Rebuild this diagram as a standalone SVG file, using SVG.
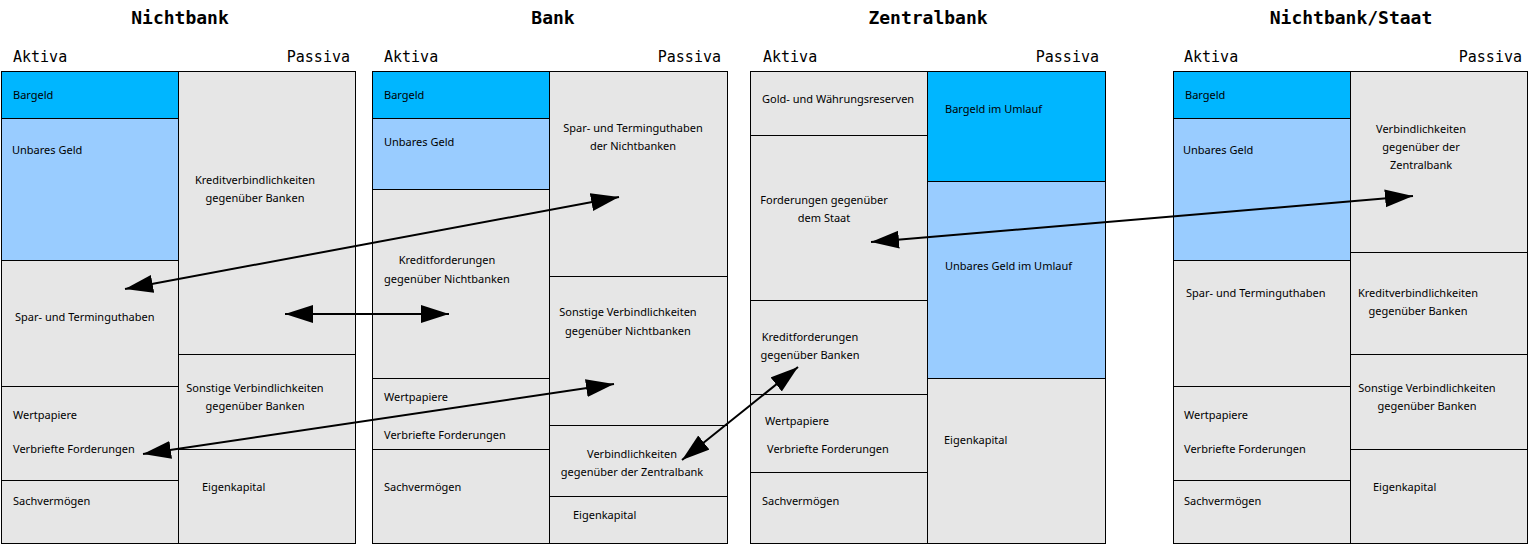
<svg xmlns="http://www.w3.org/2000/svg" width="1533" height="544" viewBox="0 0 1533 544">
<style>
.bg{fill:#ffffff}
.c{stroke:#000;stroke-width:1}
.g{fill:#e6e6e6}
.b{fill:#00b6ff}
.u{fill:#99ccff}
.h{font-family:"DejaVu Sans Mono","Liberation Mono",monospace;font-size:18px;font-weight:bold;fill:#000;text-anchor:middle}
.s{font-family:"DejaVu Sans Mono","Liberation Mono",monospace;font-size:15px;fill:#000}
.t{font-family:"Noto Sans","Open Sans","Liberation Sans",sans-serif;font-size:11px;fill:#000}
.m{text-anchor:middle}
.e{text-anchor:end}
.a{stroke:#000;stroke-width:2;fill:none;marker-start:url(#ah);marker-end:url(#ah)}
</style>
<defs>
<marker id="ah" markerUnits="userSpaceOnUse" markerWidth="30" markerHeight="20" refX="28" refY="9" orient="auto-start-reverse" viewBox="0 0 30 20">
<path d="M0,0 L28,9 L0,18 z" fill="#000"/>
</marker>
</defs>
<rect class="bg" x="0" y="0" width="1533" height="544"/>

<g id="headers">
<text class="h" x="180" y="24">Nichtbank</text>
<text class="h" x="553" y="24">Bank</text>
<text class="h" x="928" y="24">Zentralbank</text>
<text class="h" x="1351" y="24">Nichtbank/Staat</text>
<text class="s" x="13" y="62">Aktiva</text>
<text class="s e" x="350" y="62">Passiva</text>
<text class="s" x="384" y="62">Aktiva</text>
<text class="s e" x="721" y="62">Passiva</text>
<text class="s" x="763" y="62">Aktiva</text>
<text class="s e" x="1099" y="62">Passiva</text>
<text class="s" x="1184" y="62">Aktiva</text>
<text class="s e" x="1522" y="62">Passiva</text>
</g>

<!-- Nichtbank -->
<g id="nb-bargeld"><rect class="c b" x="1.5" y="71.5" width="177" height="47"/><text class="t" x="13" y="99">Bargeld</text></g>
<g id="nb-unbar"><rect class="c u" x="1.5" y="118.5" width="177" height="142"/><text class="t" x="12" y="154">Unbares Geld</text></g>
<g id="nb-spar"><rect class="c g" x="1.5" y="260.5" width="177" height="126"/><text class="t" x="15" y="321">Spar- und Terminguthaben</text></g>
<g id="nb-wert"><rect class="c g" x="1.5" y="386.5" width="177" height="94"/><text class="t" x="13" y="419">Wertpapiere</text><text class="t" x="13" y="453">Verbriefte Forderungen</text></g>
<g id="nb-sach"><rect class="c g" x="1.5" y="480.5" width="177" height="63"/><text class="t" x="13" y="505">Sachvermögen</text></g>
<g id="nb-kredit"><rect class="c g" x="178.5" y="71.5" width="177" height="283"/><text class="t m" x="255" y="184">Kreditverbindlichkeiten</text><text class="t m" x="255" y="202">gegenüber Banken</text></g>
<g id="nb-sonst"><rect class="c g" x="178.5" y="354.5" width="177" height="95"/><text class="t m" x="255" y="392">Sonstige Verbindlichkeiten</text><text class="t m" x="255" y="410">gegenüber Banken</text></g>
<g id="nb-eigen"><rect class="c g" x="178.5" y="449.5" width="177" height="94"/><text class="t" x="202" y="491">Eigenkapital</text></g>

<!-- Bank -->
<g id="b-bargeld"><rect class="c b" x="372.5" y="71.5" width="177" height="47"/><text class="t" x="384" y="99">Bargeld</text></g>
<g id="b-unbar"><rect class="c u" x="372.5" y="118.5" width="177" height="71"/><text class="t" x="384" y="146">Unbares Geld</text></g>
<g id="b-kredit"><rect class="c g" x="372.5" y="189.5" width="177" height="189"/><text class="t m" x="447" y="264">Kreditforderungen</text><text class="t m" x="447" y="283">gegenüber Nichtbanken</text></g>
<g id="b-wert"><rect class="c g" x="372.5" y="378.5" width="177" height="71"/><text class="t" x="384" y="401">Wertpapiere</text><text class="t" x="384" y="439">Verbriefte Forderungen</text></g>
<g id="b-sach"><rect class="c g" x="372.5" y="449.5" width="177" height="94"/><text class="t" x="384" y="491">Sachvermögen</text></g>
<g id="b-spar"><rect class="c g" x="549.5" y="71.5" width="178" height="205"/><text class="t m" x="633" y="132">Spar- und Terminguthaben</text><text class="t m" x="633" y="150">der Nichtbanken</text></g>
<g id="b-sonst"><rect class="c g" x="549.5" y="276.5" width="178" height="149"/><text class="t m" x="628" y="316">Sonstige Verbindlichkeiten</text><text class="t m" x="628" y="335">gegenüber Nichtbanken</text></g>
<g id="b-zb"><rect class="c g" x="549.5" y="425.5" width="178" height="71"/><text class="t m" x="632" y="458">Verbindlichkeiten</text><text class="t m" x="632" y="476">gegenüber der Zentralbank</text></g>
<g id="b-eigen"><rect class="c g" x="549.5" y="496.5" width="178" height="47"/><text class="t" x="573" y="519">Eigenkapital</text></g>

<!-- Zentralbank -->
<g id="z-gold"><rect class="c g" x="750.5" y="71.5" width="177" height="64"/><text class="t" x="762" y="103">Gold- und Währungsreserven</text></g>
<g id="z-staat"><rect class="c g" x="750.5" y="135.5" width="177" height="165"/><text class="t m" x="824" y="204">Forderungen gegenüber</text><text class="t m" x="824" y="222">dem Staat</text></g>
<g id="z-kredit"><rect class="c g" x="750.5" y="300.5" width="177" height="94"/><text class="t m" x="810" y="341">Kreditforderungen</text><text class="t m" x="810" y="359">gegenüber Banken</text></g>
<g id="z-wert"><rect class="c g" x="750.5" y="394.5" width="177" height="78"/><text class="t" x="765" y="425">Wertpapiere</text><text class="t" x="767" y="453">Verbriefte Forderungen</text></g>
<g id="z-sach"><rect class="c g" x="750.5" y="472.5" width="177" height="71"/><text class="t" x="762" y="505">Sachvermögen</text></g>
<g id="z-bargeld"><rect class="c b" x="927.5" y="71.5" width="178" height="110"/><text class="t" x="945" y="113">Bargeld im Umlauf</text></g>
<g id="z-unbar"><rect class="c u" x="927.5" y="181.5" width="178" height="197"/><text class="t" x="945" y="270">Unbares Geld im Umlauf</text></g>
<g id="z-eigen"><rect class="c g" x="927.5" y="378.5" width="178" height="165"/><text class="t" x="944" y="444">Eigenkapital</text></g>

<!-- Nichtbank/Staat -->
<g id="s-bargeld"><rect class="c b" x="1173.5" y="71.5" width="177" height="47"/><text class="t" x="1185" y="99">Bargeld</text></g>
<g id="s-unbar"><rect class="c u" x="1173.5" y="118.5" width="177" height="142"/><text class="t" x="1183" y="154">Unbares Geld</text></g>
<g id="s-spar"><rect class="c g" x="1173.5" y="260.5" width="177" height="126"/><text class="t" x="1186" y="297">Spar- und Terminguthaben</text></g>
<g id="s-wert"><rect class="c g" x="1173.5" y="386.5" width="177" height="94"/><text class="t" x="1184" y="419">Wertpapiere</text><text class="t" x="1184" y="453">Verbriefte Forderungen</text></g>
<g id="s-sach"><rect class="c g" x="1173.5" y="480.5" width="177" height="63"/><text class="t" x="1184" y="505">Sachvermögen</text></g>
<g id="s-zb"><rect class="c g" x="1350.5" y="71.5" width="177" height="181"/><text class="t m" x="1421" y="133">Verbindlichkeiten</text><text class="t m" x="1421" y="151">gegenüber der</text><text class="t m" x="1421" y="169">Zentralbank</text></g>
<g id="s-kredit"><rect class="c g" x="1350.5" y="252.5" width="177" height="102"/><text class="t m" x="1418" y="297">Kreditverbindlichkeiten</text><text class="t m" x="1418" y="315">gegenüber Banken</text></g>
<g id="s-sonst"><rect class="c g" x="1350.5" y="354.5" width="177" height="95"/><text class="t m" x="1427" y="392">Sonstige Verbindlichkeiten</text><text class="t m" x="1427" y="410">gegenüber Banken</text></g>
<g id="s-eigen"><rect class="c g" x="1350.5" y="449.5" width="177" height="94"/><text class="t" x="1373" y="491">Eigenkapital</text></g>

<g id="connectors">
<line class="a" x1="125" y1="289" x2="619" y2="197"/>
<line class="a" x1="285" y1="314" x2="449" y2="314"/>
<line class="a" x1="143" y1="454" x2="614" y2="384"/>
<line class="a" x1="682" y1="460" x2="798" y2="367"/>
<line class="a" x1="871" y1="242" x2="1413" y2="196"/>
</g>
</svg>
